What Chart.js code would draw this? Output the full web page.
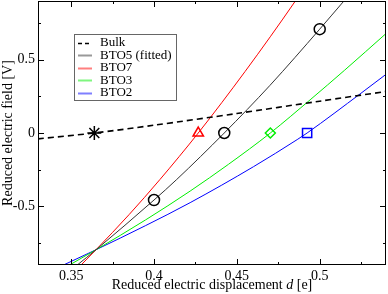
<!DOCTYPE html>
<html>
<head>
<meta charset="utf-8">
<script src="https://cdn.jsdelivr.net/npm/chart.js@4.4.1/dist/chart.umd.min.js"></script>
<style>
  html, body { margin: 0; padding: 0; background: #fff; }
  #wrap { width: 388px; height: 294px; position: relative; }
</style>
</head>
<body>
<div id="wrap"><canvas id="fieldChart"></canvas></div>
<script>
// values: d [e] and reduced field [V]
var bulkD = [0.33, 0.364, 0.40, 0.45, 0.50, 0.54];
var bulkE = [-0.04, 0.0, 0.053, 0.133, 0.217, 0.283];

var bto5D = [0.3537, 0.365, 0.40, 0.4137, 0.4424, 0.47, 0.50, 0.5146, 0.52];
var bto5E = [-0.90, -0.796, -0.457, -0.317, 0.0, 0.325, 0.708, 0.90, 0.97];

var bto7D = [0.356, 0.365, 0.385, 0.4036, 0.4267, 0.455, 0.4853, 0.49];
var bto7E = [-0.90, -0.796, -0.556, -0.317, 0.0, 0.42, 0.90, 0.98];

var bto3D = [0.349, 0.365, 0.395, 0.4218, 0.445, 0.4702, 0.4942, 0.515, 0.54];
var bto3E = [-0.90, -0.796, -0.592, -0.396, -0.213, 0.0, 0.226, 0.428, 0.678];

var bto2D = [0.3454, 0.365, 0.395, 0.4218, 0.46, 0.4864, 0.4924, 0.5249, 0.54];
var bto2E = [-0.90, -0.796, -0.631, -0.475, -0.23, -0.045, 0.0, 0.271, 0.40];

// markers
var bulkMarkD = [0.364], bulkMarkE = [0.0];
var bto5MarkD = [0.40, 0.4424, 0.50], bto5MarkE = [-0.457, 0.0, 0.708];
var bto7MarkD = [0.4267], bto7MarkE = [0.0];
var bto3MarkD = [0.4702], bto3MarkE = [0.0];
var bto2MarkD = [0.4924], bto2MarkE = [0.0];

var xTicks = [0.35, 0.4, 0.45, 0.5];
var xMinor = [0.375, 0.425, 0.475, 0.525];
var yTicks = [-0.5, 0, 0.5];
var yMinor = [-0.75, -0.25, 0.25, 0.75];

function pts(xs, ys) {
  return xs.map(function (x, i) { return { x: x, y: ys[i] }; });
}

var SERIF = "'Liberation Serif', 'DejaVu Serif', serif";

function lineSet(label, xs, ys, color, extra) {
  var ds = {
    label: label,
    data: pts(xs, ys),
    showLine: true,
    borderColor: color,
    borderWidth: 1,
    pointRadius: 0,
    cubicInterpolationMode: 'monotone',
    isLegend: true
  };
  for (var k in extra) ds[k] = extra[k];
  return ds;
}

function markSet(xs, ys, color, style, r) {
  return {
    label: '',
    data: pts(xs, ys),
    showLine: false,
    pointStyle: style,
    pointRadius: r,
    pointBorderColor: color,
    pointBackgroundColor: 'rgba(0,0,0,0)',
    pointBorderWidth: 1.5
  };
}

// frame, inward ticks, titles and the boxed legend
var decor = {
  id: 'decor',
  afterDraw: function (chart) {
    var ctx = chart.ctx, a = chart.chartArea;
    var xs = chart.scales.x, ys = chart.scales.y;
    ctx.save();
    ctx.strokeStyle = '#000';
    ctx.lineWidth = 1;
    ctx.strokeRect(a.left + 0.5, a.top + 0.5, a.right - a.left - 1, a.bottom - a.top - 1);

    function xt(vals, len) {
      vals.forEach(function (v) {
        var p = Math.round(xs.getPixelForValue(v)) + 0.5;
        ctx.beginPath();
        ctx.moveTo(p, a.bottom); ctx.lineTo(p, a.bottom - len);
        ctx.moveTo(p, a.top); ctx.lineTo(p, a.top + len);
        ctx.stroke();
      });
    }
    function yt(vals, len) {
      vals.forEach(function (v) {
        var p = Math.round(ys.getPixelForValue(v)) + 0.5;
        ctx.beginPath();
        ctx.moveTo(a.left, p); ctx.lineTo(a.left + len, p);
        ctx.moveTo(a.right, p); ctx.lineTo(a.right - len, p);
        ctx.stroke();
      });
    }
    xt(xTicks, 6); xt(xMinor, 3);
    yt(yTicks, 6); yt(yMinor, 3);

    // x title with italic d
    ctx.fillStyle = '#000';
    ctx.textBaseline = 'alphabetic';
    var parts = [
      ['Reduced electric displacement ', '14px ' + SERIF],
      ['d', 'italic 14px ' + SERIF],
      [' [e]', '14px ' + SERIF]
    ];
    var total = 0;
    parts.forEach(function (p) { ctx.font = p[1]; total += ctx.measureText(p[0]).width; });
    var cx = (a.left + a.right) / 2 - total / 2;
    parts.forEach(function (p) {
      ctx.font = p[1];
      ctx.textAlign = 'left';
      ctx.fillText(p[0], cx, 289);
      cx += ctx.measureText(p[0]).width;
    });

    // y title
    ctx.save();
    ctx.translate(12, (a.top + a.bottom) / 2);
    ctx.rotate(-Math.PI / 2);
    ctx.font = '14px ' + SERIF;
    ctx.textAlign = 'center';
    ctx.fillText('Reduced electric field [V]', 0, 0);
    ctx.restore();

    // legend box
    var bx = 74, by = 34, bw = 102, bh = 66;
    ctx.fillStyle = '#fff';
    ctx.fillRect(bx, by, bw, bh);
    ctx.strokeStyle = '#666';
    ctx.strokeRect(bx + 0.5, by + 0.5, bw, bh);
    var items = chart.data.datasets.filter(function (d) { return d.isLegend; });
    ctx.font = '13px ' + SERIF;
    ctx.textAlign = 'left';
    ctx.textBaseline = 'middle';
    items.forEach(function (d, i) {
      var yy = by + 8.5 + i * 12.5;
      ctx.save();
      ctx.strokeStyle = d.borderColor;
      if (d.borderDash) { ctx.setLineDash([4, 3]); ctx.lineWidth = 1.5; }
      else { ctx.lineWidth = 2; ctx.globalAlpha = 0.5; }
      ctx.beginPath();
      ctx.moveTo(78, Math.round(yy) + 0.5);
      ctx.lineTo(92, Math.round(yy) + 0.5);
      ctx.stroke();
      ctx.restore();
      ctx.fillStyle = '#000';
      ctx.fillText(d.label, 100, yy + 0.5);
    });
    ctx.restore();
  }
};

new Chart(document.getElementById('fieldChart').getContext('2d'), {
  type: 'scatter',
  data: {
    datasets: [
      lineSet('Bulk', bulkD, bulkE, '#000', { borderWidth: 1.6, borderDash: [6, 4], cubicInterpolationMode: 'default', tension: 0.3 }),
      markSet(bulkMarkD, bulkMarkE, '#000', 'star', 7),
      markSet(bto5MarkD, bto5MarkE, '#000', 'circle', 5.5),
      markSet(bto7MarkD, bto7MarkE, '#ff0000', 'triangle', 6),
      markSet(bto3MarkD, bto3MarkE, '#00ee00', 'rectRot', 5),
      markSet(bto2MarkD, bto2MarkE, '#0000ff', 'rect', 6.5),
      lineSet('BTO5 (fitted)', bto5D, bto5E, '#333'),
      lineSet('BTO7', bto7D, bto7E, '#ff0000'),
      lineSet('BTO3', bto3D, bto3E, '#00ee00'),
      lineSet('BTO2', bto2D, bto2E, '#0000ff')
    ]
  },
  options: {
    responsive: true,
    maintainAspectRatio: false,
    animation: false,
    layout: { autoPadding: false, padding: { top: 1, right: 2, left: 0, bottom: 0 } },
    plugins: { legend: { display: false }, tooltip: { enabled: false } },
    scales: {
      x: {
        type: 'linear', min: 0.33, max: 0.54,
        grid: { display: false, drawTicks: false },
        border: { display: false },
        afterFit: function (s) { s.height = 29; s.paddingLeft = 0; s.paddingRight = 0; },
        afterBuildTicks: function (s) { s.ticks = xTicks.map(function (v) { return { value: v }; }); },
        ticks: {
          padding: 3, color: '#000', maxRotation: 0,
          font: { family: SERIF, size: 14 },
          callback: function (v) { return String(v); }
        }
      },
      y: {
        type: 'linear', min: -0.9, max: 0.9,
        grid: { display: false, drawTicks: false },
        border: { display: false },
        afterFit: function (s) { s.width = 38; s.paddingTop = 0; s.paddingBottom = 0; },
        afterBuildTicks: function (s) { s.ticks = yTicks.map(function (v) { return { value: v }; }); },
        ticks: {
          padding: 3, color: '#000',
          font: { family: SERIF, size: 14 },
          callback: function (v) { return String(v); }
        }
      }
    }
  },
  plugins: [decor]
});
</script>
</body>
</html>
